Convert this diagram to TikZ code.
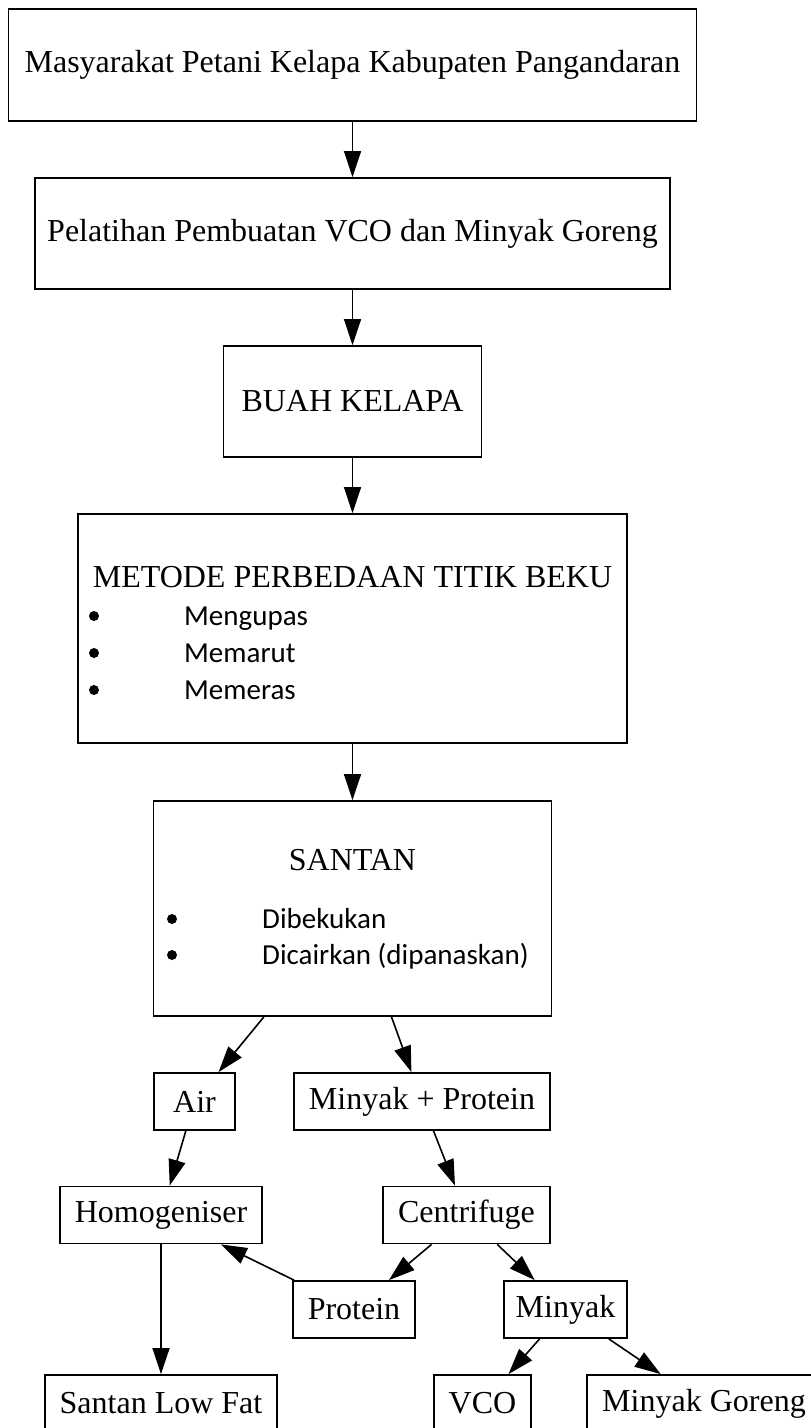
\documentclass[tikz,border=0pt]{standalone}
\usepackage{fontspec}
\setmainfont{Liberation Serif}
\newfontfamily\calibfont{Carlito}
\usetikzlibrary{arrows.meta}
\begin{document}
\begin{tikzpicture}[x=1pt,y=-1pt,
  box/.style={draw, line width=1.8pt, inner sep=0pt, font=\fontsize{32}{38}\selectfont},
  smallbox/.style={box, minimum height=57pt},
  lbl/.style={inner sep=0pt, font=\fontsize{32}{38}\selectfont, anchor=base},
  item/.style={inner sep=0pt, font=\calibfont\fontsize{29}{35}\selectfont, anchor=base west},
  arr/.style={line width=1.6pt, -{Triangle[length=26pt,width=17pt]}},
  dot/.style={circle, fill, inner sep=0pt, minimum size=10pt}
]
\useasboundingbox (0,0) rectangle (811,1428);
\fill[white] (0,0) rectangle (811,1428);

% main column
\node[box, minimum width=688pt, minimum height=112pt] (n1) at (352.5,65) {Masyarakat Petani Kelapa Kabupaten Pangandaran};
\node[box, minimum width=635pt, minimum height=111pt] (n2) at (352.5,233.5) {Pelatihan Pembuatan VCO dan Minyak Goreng};
\node[box, minimum width=258pt, minimum height=111pt] (n3) at (352.5,401.5) {BUAH KELAPA};

\node[box, minimum width=549pt, minimum height=229pt] (n4) at (352.5,628.5) {};
\node[lbl] (t4) at (352.5,587) {METODE PERBEDAAN TITIK BEKU};
\node[dot] (b41) at (94,616) {};
\node[item] (i41) at (184,625) {Mengupas};
\node[dot] (b42) at (94,653) {};
\node[item] (i42) at (184,662) {Memarut};
\node[dot] (b43) at (94,690) {};
\node[item] (i43) at (184,699) {Memeras};

\node[box, minimum width=398pt, minimum height=215pt] (n5) at (352.5,908.5) {};
\node[lbl] (t5) at (352.5,870) {SANTAN};
\node[dot] (b51) at (172,919) {};
\node[item] (i51) at (262,928) {Dibekukan};
\node[dot] (b52) at (172,955) {};
\node[item] (i52) at (262,964) {Dicairkan (dipanaskan)};

% lower graph
\node[smallbox, minimum width=81pt]  (air)   at (194.5,1101.5) {Air};
\node[smallbox, minimum width=256pt] (mp)    at (422,1101.5)   {Minyak + Protein};
\node[smallbox, minimum width=202pt] (homog) at (161,1215)     {Homogeniser};
\node[smallbox, minimum width=167pt] (centr) at (466.5,1215)   {Centrifuge};
\node[smallbox, minimum width=122pt] (prot)  at (354,1309.5)   {Protein};
\node[smallbox, minimum width=123pt] (miny)  at (565.5,1309.5) {Minyak};
\node[smallbox, minimum width=232pt] (slf)   at (161,1403.5)   {Santan Low Fat};
\node[smallbox, minimum width=97pt]  (vco)   at (482.5,1403.5) {VCO};
\node[smallbox, minimum width=234pt] (mg)    at (704,1403.5)   {Minyak Goreng};

% connectors
\draw[arr] (n1.south) -- (n2.north);
\draw[arr] (n2.south) -- (n3.north);
\draw[arr] (n3.south) -- (n4.north);
\draw[arr] (n4.south) -- (n5.north);
\draw[arr] (n5) -- (air);
\draw[arr] (n5) -- (mp);
\draw[arr] (air) -- (homog);
\draw[arr] (mp) -- (centr);
\draw[arr] (homog) -- (slf);
\draw[arr] (centr) -- (prot);
\draw[arr] (centr) -- (miny);
\draw[arr] (prot) -- (homog);
\draw[arr] (miny) -- (vco);
\draw[arr] (miny) -- (mg);
\end{tikzpicture}
\end{document}
